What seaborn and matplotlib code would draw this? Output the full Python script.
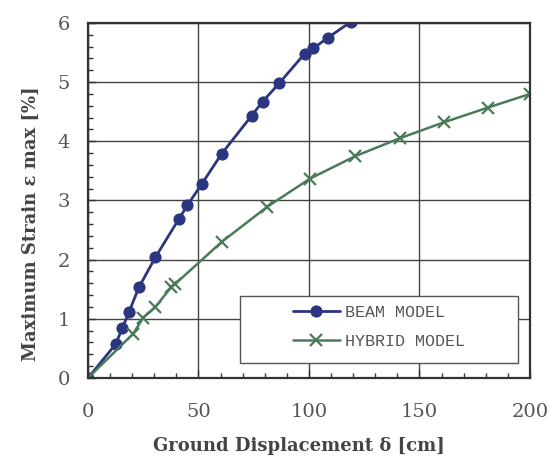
import matplotlib
matplotlib.use("Agg")
import matplotlib.pyplot as plt
from matplotlib.ticker import MultipleLocator
from matplotlib.patches import Rectangle
import seaborn as sns
import pandas as pd

# Beam model: ground displacement [cm] vs maximum strain [%]
beam_disp = [0, 12.5, 15.5, 18.5, 23, 30.5, 41, 45, 51.5, 60.5, 74, 79, 86.5, 98, 102, 108.5, 119]
beam_strain = [0, 0.57, 0.84, 1.11, 1.53, 2.04, 2.68, 2.92, 3.28, 3.79, 4.43, 4.67, 4.98, 5.48, 5.57, 5.75, 6.02]

# Hybrid model
hybrid_disp = [0, 20.5, 25, 30.5, 37.5, 39.5, 60.5, 81, 100.5, 121, 141, 161, 181, 200]
hybrid_strain = [0, 0.75, 1.02, 1.20, 1.53, 1.59, 2.30, 2.89, 3.37, 3.75, 4.05, 4.32, 4.57, 4.80]

series_names = ["BEAM MODEL", "HYBRID MODEL"]
x_ticks = [0, 50, 100, 150, 200]
y_ticks = [0, 1, 2, 3, 4, 5, 6]

beam = pd.DataFrame({"disp": beam_disp, "strain": beam_strain})
hybrid = pd.DataFrame({"disp": hybrid_disp, "strain": hybrid_strain})

sns.set_style("white")
plt.rcParams["font.family"] = ["DejaVu Serif"]

fig = plt.figure(figsize=(5.5, 4.59), dpi=100)
ax = fig.add_axes([0.16, 0.1765, 0.8036, 0.7735])

beam_color = "#2c3680"
hybrid_color = "#4b7a5a"

sns.lineplot(data=beam, x="disp", y="strain", ax=ax, color=beam_color,
             marker="o", markersize=8, markeredgecolor=beam_color,
             linewidth=2, label=series_names[0], sort=False)
sns.lineplot(data=hybrid, x="disp", y="strain", ax=ax, color=hybrid_color,
             marker="x", markersize=9, markeredgewidth=1.6,
             markeredgecolor=hybrid_color,
             linewidth=1.8, label=series_names[1], sort=False)

ax.set_xlim(0, 200)
ax.set_ylim(0, 6)
ax.set_xticks(x_ticks)
ax.set_yticks(y_ticks)
ax.xaxis.set_minor_locator(MultipleLocator(10))
ax.yaxis.set_minor_locator(MultipleLocator(0.2))
ax.tick_params(which="major", direction="in", length=6, width=1, colors="#333333",
               labelsize=14, labelcolor="#555555")
ax.tick_params(axis="x", which="major", pad=18)
ax.tick_params(axis="y", which="major", pad=13)
ax.tick_params(which="minor", direction="in", length=3.5, width=1, colors="#333333")
ax.tick_params(bottom=True, left=True, which="both")

ax.grid(True, which="major", color="#444444", linewidth=1.0)
for s in ax.spines.values():
    s.set_color("#333333")
    s.set_linewidth(1.6)

ax.set_xlabel("Ground Displacement δ [cm]", fontsize=13, fontweight="bold",
              color="#444444")
ax.set_ylabel("Maximum Strain ε max [%]", fontsize=13, fontweight="bold",
              color="#444444")
ax.xaxis.set_label_coords(0.477, -0.166)
ax.yaxis.set_label_coords(-0.109, 0.435)

# legend box (white, hides the grid beneath it)
ax.add_patch(Rectangle((0.344, 0.042), 0.629, 0.189, transform=ax.transAxes,
                       facecolor="white", edgecolor="#555555", linewidth=1.0,
                       zorder=4))
leg = ax.legend(loc="upper left", bbox_to_anchor=(0.464, 0.205), frameon=False,
                handlelength=2.8, handletextpad=0.3, borderpad=0,
                labelspacing=0.84, borderaxespad=0,
                prop={"family": "Liberation Mono", "size": 12})
leg.set_zorder(5)
for t in leg.get_texts():
    t.set_color("#555555")

fig.savefig("out.png", dpi=100)
